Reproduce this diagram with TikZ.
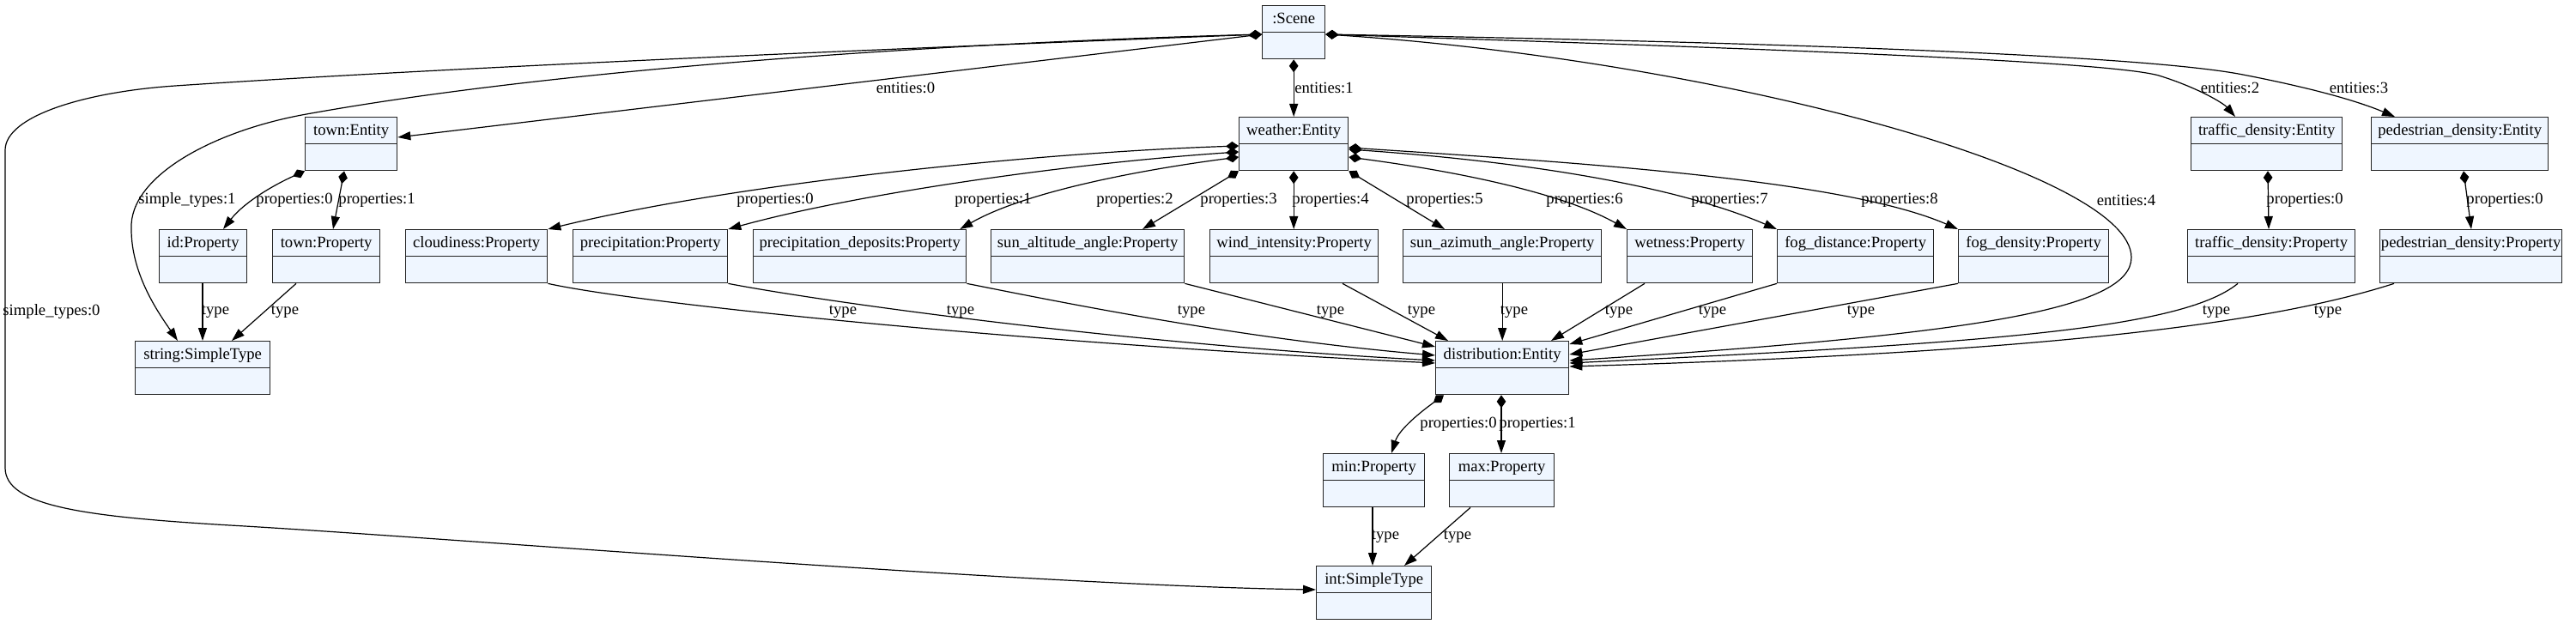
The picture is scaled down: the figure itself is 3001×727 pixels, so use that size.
\documentclass[tikz,border=0pt]{standalone}
\usepackage{fontspec}
\setmainfont{Liberation Serif}
\usetikzlibrary{arrows.meta,calc}
\definecolor{boxfill}{RGB}{239,246,255}
\definecolor{boxline}{RGB}{35,35,35}
\newcommand\umlbox[5]{\node[umlcls, minimum width=#4*0.75pt] (#1) at (#2,#3) {#5};}
\begin{document}
\begin{tikzpicture}[x=0.75pt,y=-0.75pt,
  font=\fontsize{14pt}{16pt}\selectfont,
  umlcls/.style={draw=boxline, fill=boxfill, line width=1pt, anchor=north west,
    inner xsep=0pt, inner ysep=0pt, text height=15.75pt, text depth=30.75pt,
    path picture={\draw[boxline, line width=1pt] (path picture bounding box.west) -- (path picture bounding box.east);}},
  lbl/.style={inner sep=0pt},
  compedge/.style={draw=black, line width=0.9pt, {Diamond[length=11.25pt,width=8pt]}-{Triangle[length=11.25pt,width=7.5pt]}},
  typeedge/.style={draw=black, line width=0.9pt, -{Triangle[length=11.25pt,width=7.5pt]}}]
\fill[white] (0,0) rectangle (3001,727);
\useasboundingbox (0,0) rectangle (3001,727);

% classes
\umlbox{scene}{1470}{6}{73}{:Scene}
\umlbox{town_e}{355}{136}{107}{town:Entity}
\umlbox{weather}{1443}{136}{127}{weather:Entity}
\umlbox{traffic_e}{2552}{136}{176}{traffic\_density:Entity}
\umlbox{ped_e}{2762}{136}{206}{pedestrian\_density:Entity}
\umlbox{id_p}{185}{267}{102}{id:Property}
\umlbox{town_p}{317}{267}{125}{town:Property}
\umlbox{cloud}{472}{267}{165}{cloudiness:Property}
\umlbox{precip}{667}{267}{180}{precipitation:Property}
\umlbox{pdep}{877}{267}{248}{precipitation\_deposits:Property}
\umlbox{salt}{1154}{267}{225}{sun\_altitude\_angle:Property}
\umlbox{wind}{1409}{267}{196}{wind\_intensity:Property}
\umlbox{saz}{1634}{267}{231}{sun\_azimuth\_angle:Property}
\umlbox{wet}{1895}{267}{146}{wetness:Property}
\umlbox{fogd}{2070}{267}{182}{fog\_distance:Property}
\umlbox{fogden}{2281}{267}{175}{fog\_density:Property}
\umlbox{traf_p}{2548}{267}{195}{traffic\_density:Property}
\umlbox{ped_p}{2772}{267}{212}{pedestrian\_density:Property}
\umlbox{string}{157}{397}{157}{string:SimpleType}
\umlbox{dist}{1672}{397}{155}{distribution:Entity}
\umlbox{minp}{1541}{528}{118}{min:Property}
\umlbox{maxp}{1688}{528}{122}{max:Property}
\umlbox{intt}{1533}{659}{134}{int:SimpleType}

% Scene edges
\draw[compedge] ($(scene.north west)+(0,34)$) -- ($(town_e.north east)+(0,24)$);
\draw[compedge] (scene.south) -- (weather.north);
\draw[compedge] ($(scene.north west)+(0,34)$) .. controls (1100,50) and (650,80) .. (357,133)
  .. controls (250,152) and (150,205) .. (153,267)
  .. controls (153,320) and (185,365) .. ($(string.north west)+(50,0)$);
\draw[compedge] ($(scene.north west)+(0,34)$) .. controls (1000,58) and (500,80) .. (204,100)
  .. controls (100,107) and (6,135) .. (6,175) -- (6,545)
  .. controls (6,590) and (100,602) .. (268,612)
  .. controls (500,625) and (1200,682) .. ($(intt.north west)+(0,28)$);
\draw[compedge] ($(scene.north east)+(0,34)$) .. controls (2000,55) and (2450,70) .. (2515,88)
  .. controls (2560,102) and (2590,120) .. ($(traffic_e.north west)+(52,0)$);
\draw[compedge] ($(scene.north east)+(0,34)$) .. controls (2100,50) and (2500,65) .. (2613,87)
  .. controls (2680,100) and (2740,115) .. ($(ped_e.north west)+(28,0)$);
\draw[compedge] ($(scene.north east)+(0,34)$) .. controls (2000,70) and (2483,200) .. (2483,300)
  .. controls (2483,360) and (2300,390) .. ($(dist.north east)+(0,23)$);

% weather edges
\draw[compedge] ($(weather.north west)+(0,34)$) .. controls (1200,178) and (850,215) .. (cloud.north east);
\draw[compedge] ($(weather.north west)+(0,41)$) .. controls (1250,190) and (1000,225) .. (precip.north east);
\draw[compedge] ($(weather.north west)+(0,47)$) .. controls (1350,195) and (1200,220) .. ($(pdep.north east)+(-8,0)$);
\draw[compedge] (weather.south west) -- ($(salt.north west)+(177,0)$);
\draw[compedge] (weather.south) -- (weather.south |- wind.north);
\draw[compedge] (weather.south east) -- ($(saz.north west)+(49,0)$);
\draw[compedge] ($(weather.north east)+(0,47)$) .. controls (1700,200) and (1820,225) .. (wet.north west);
\draw[compedge] ($(weather.north east)+(0,38)$) .. controls (1800,190) and (1960,220) .. (fogd.north west);
\draw[compedge] ($(weather.north east)+(0,36)$) .. controls (1850,190) and (2150,210) .. (fogden.north west);

% type edges into distribution
\draw[typeedge] (cloud.south east) .. controls (750,355) and (1200,400) .. ($(dist.north west)+(0,26)$);
\draw[typeedge] (precip.south east) .. controls (950,350) and (1300,400) .. ($(dist.north west)+(0,23)$);
\draw[typeedge] (pdep.south east) .. controls (1250,355) and (1450,395) .. ($(dist.north west)+(0,17)$);
\draw[typeedge] (salt.south east) -- ($(dist.north west)+(0,7)$);
\draw[typeedge] ($(wind.south west)+(155,0)$) -- ($(dist.north west)+(15,0)$);
\draw[typeedge] (saz.south) -- (saz.south |- dist.north);
\draw[typeedge] ($(wet.south west)+(21,0)$) -- ($(dist.north west)+(135,0)$);
\draw[typeedge] (fogd.south west) -- ($(dist.north east)+(0,4)$);
\draw[typeedge] (fogden.south west) -- ($(dist.north east)+(0,16)$);
\draw[typeedge] ($(traf_p.south west)+(59,0)$) .. controls (2540,385) and (2300,400) .. ($(dist.north east)+(0,26)$);
\draw[typeedge] ($(ped_p.south west)+(17,0)$) .. controls (2650,375) and (2400,410) .. ($(dist.north east)+(0,30)$);

% town edges
\draw[compedge] (town_e.south west) .. controls (320,215) and (285,235) .. ($(id_p.north west)+(75,0)$);
\draw[compedge] ($(town_e.south west)+(46,0)$) -- ($(town_p.north west)+(71,0)$);
\draw[typeedge] ($(id_p.south west)+(51,0)$) -- ($(string.north west)+(79,0)$);
\draw[typeedge] ($(town_p.south west)+(28,0)$) -- ($(string.north west)+(113,0)$);

% traffic / pedestrian
\draw[compedge] ($(traffic_e.south west)+(90,0)$) -- ($(traf_p.north west)+(95,0)$);
\draw[compedge] ($(ped_e.south west)+(108,0)$) -- ($(ped_p.north west)+(107,0)$);

% distribution
\draw[compedge] ($(dist.south west)+(10,0)$) .. controls (1655,480) and (1630,500) .. ($(minp.north west)+(80,0)$);
\draw[compedge] ($(dist.south west)+(77,0)$) -- ($(maxp.north west)+(61,0)$);
\draw[typeedge] ($(minp.south west)+(58,0)$) -- ($(intt.north west)+(66,0)$);
\draw[typeedge] ($(maxp.south west)+(25,0)$) -- ($(intt.north west)+(103,0)$);

% labels
\node[lbl] (l_e0) at (1055,102) {entities:0};
\node[lbl, anchor=west] (l_e1) at (1508,102) {entities:1};
\node[lbl] (l_e2) at (2598,102) {entities:2};
\node[lbl] (l_e3) at (2748,102) {entities:3};
\node[lbl] (l_e4) at (2477,233) {entities:4};
\node[lbl] (l_s0) at (60,363) {simple\_types:0};
\node[lbl] (l_s1) at (218,233) {simple\_types:1};
\node[lbl] (l_tp0) at (343,233) {properties:0};
\node[lbl] (l_tp1) at (439,233) {properties:1};
\node[lbl] (l_wp0) at (903,233) {properties:0};
\node[lbl] (l_wp1) at (1157,233) {properties:1};
\node[lbl] (l_wp2) at (1322,233) {properties:2};
\node[lbl] (l_wp3) at (1443,233) {properties:3};
\node[lbl] (l_wp4) at (1550,233) {properties:4};
\node[lbl] (l_wp5) at (1683,233) {properties:5};
\node[lbl] (l_wp6) at (1846,233) {properties:6};
\node[lbl] (l_wp7) at (2015,233) {properties:7};
\node[lbl] (l_wp8) at (2213,233) {properties:8};
\node[lbl] (l_trp) at (2685,233) {properties:0};
\node[lbl] (l_pep) at (2918,233) {properties:0};
\node[lbl] (l_t1) at (251,363) {type};
\node[lbl] (l_t2) at (332,363) {type};
\node[lbl] (l_t3) at (982,363) {type};
\node[lbl] (l_t4) at (1119,363) {type};
\node[lbl] (l_t5) at (1388,363) {type};
\node[lbl] (l_t6) at (1550,363) {type};
\node[lbl] (l_t7) at (1656,363) {type};
\node[lbl] (l_t8) at (1764,363) {type};
\node[lbl] (l_t9) at (1886,363) {type};
\node[lbl] (l_t10) at (1995,363) {type};
\node[lbl] (l_t11) at (2168,363) {type};
\node[lbl] (l_t12) at (2582,363) {type};
\node[lbl] (l_t13) at (2712,363) {type};
\node[lbl] (l_dp0) at (1699,494) {properties:0};
\node[lbl] (l_dp1) at (1791,494) {properties:1};
\node[lbl] (l_t14) at (1614,625) {type};
\node[lbl] (l_t15) at (1698,625) {type};
\end{tikzpicture}
\end{document}
